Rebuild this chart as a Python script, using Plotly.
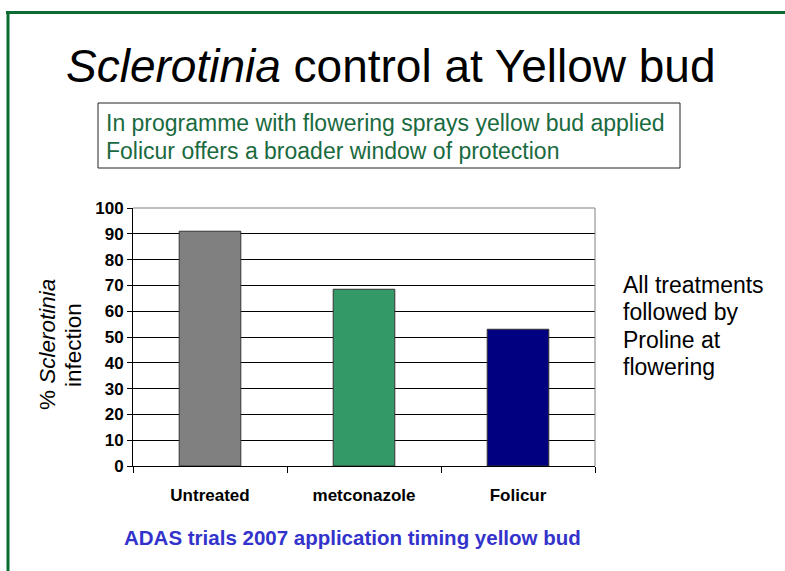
import plotly.graph_objects as go

categories = ["Untreated", "metconazole", "Folicur"]
values = [91, 68.5, 53]
bar_colors = ["#808080", "#339966", "#000080"]
y_ticks = [0, 10, 20, 30, 40, 50, 60, 70, 80, 90, 100]

title_text = "<i>Sclerotinia</i> control at Yellow bud"
box_lines = ["In programme with flowering sprays yellow bud applied",
             "Folicur offers a broader window of protection"]
side_lines = ["All treatments", "followed by", "Proline at", "flowering"]
ytitle_lines = ["% <i>Sclerotinia</i>", "infection"]
source_text = "<b>ADAS trials 2007 application timing yellow bud</b>"

W, H = 785, 571
L, R, T, B = 133, 595, 208, 466  # plot area in px

def px(x):
    return (x - L) / (R - L)

def py(y):
    return (B - y) / (B - T)

fig = go.Figure()
fig.add_trace(go.Bar(
    x=categories, y=values, width=0.4,
    marker=dict(color=bar_colors, line=dict(color="#333333", width=1)),
    hoverinfo="skip",
))

fig.update_layout(
    width=W, height=H, autosize=False,
    margin=dict(l=L, r=W - R, t=T, b=H - B, pad=0),
    paper_bgcolor="white", plot_bgcolor="white",
    showlegend=False,
    font=dict(family="Arial, Liberation Sans, sans-serif", color="black"),
    xaxis=dict(
        type="category", showgrid=False, showline=True, linecolor="black", linewidth=1,
        ticks="outside", tickson="boundaries", ticklen=6, tickcolor="black",
        tickfont=dict(size=17, family="Arial, Liberation Sans", color="black", weight="bold"),
        ticklabelstandoff=14, fixedrange=True,
    ),
    yaxis=dict(
        range=[0, 100], tickvals=y_ticks, showgrid=True, gridcolor="black", gridwidth=1,
        showline=True, linecolor="black", linewidth=1, zeroline=False,
        ticks="outside", ticklen=5, tickcolor="black",
        tickfont=dict(size=17, family="Arial, Liberation Sans", color="black", weight="bold"),
        fixedrange=True,
    ),
)

shapes = [
    # plot area border (top & right, gray)
    dict(type="line", xref="paper", yref="paper", x0=0, x1=1, y0=1, y1=1,
         line=dict(color="#808080", width=1)),
    dict(type="line", xref="paper", yref="paper", x0=1, x1=1, y0=0, y1=1,
         line=dict(color="#808080", width=1)),
    # slide green border
    dict(type="line", xref="paper", yref="paper", x0=px(6), x1=px(790), y0=py(12.5), y1=py(12.5),
         line=dict(color="#0b6b32", width=3)),
    dict(type="line", xref="paper", yref="paper", x0=px(8), x1=px(8), y0=py(11), y1=py(580),
         line=dict(color="#0b6b32", width=3)),
    # text box
    dict(type="rect", xref="paper", yref="paper", x0=px(98), x1=px(680), y0=py(168), y1=py(103),
         line=dict(color="#222222", width=1), fillcolor="white"),
]
fig.update_layout(shapes=shapes)

ann = [
    dict(text=title_text, x=px(391), y=py(66), font=dict(size=46, color="black")),
    dict(text=source_text, x=px(352), y=py(537), font=dict(size=20.5, color="#3333cc")),
]
for i, t in enumerate(box_lines):
    ann.append(dict(text=t, x=px(104), y=py(123 + 28 * i), xanchor="left",
                    font=dict(size=23, color="#1a6a40")))
for i, t in enumerate(side_lines):
    ann.append(dict(text=t, x=px(621), y=py(285 + 27.3 * i), xanchor="left",
                    font=dict(size=23, color="black")))
for i, t in enumerate(ytitle_lines):
    ann.append(dict(text=t, x=px(47 + 26 * i), y=py(345), textangle=-90,
                    font=dict(size=22.5, color="black")))
for a in ann:
    a.setdefault("xref", "paper")
    a.setdefault("yref", "paper")
    a.setdefault("showarrow", False)
    a.setdefault("xanchor", "center")
    a.setdefault("yanchor", "middle")
fig.update_layout(annotations=ann)

fig.write_html("out.html", config={"displayModeBar": False},
               post_script="document.body.style.margin='0';document.body.style.padding='0';")
